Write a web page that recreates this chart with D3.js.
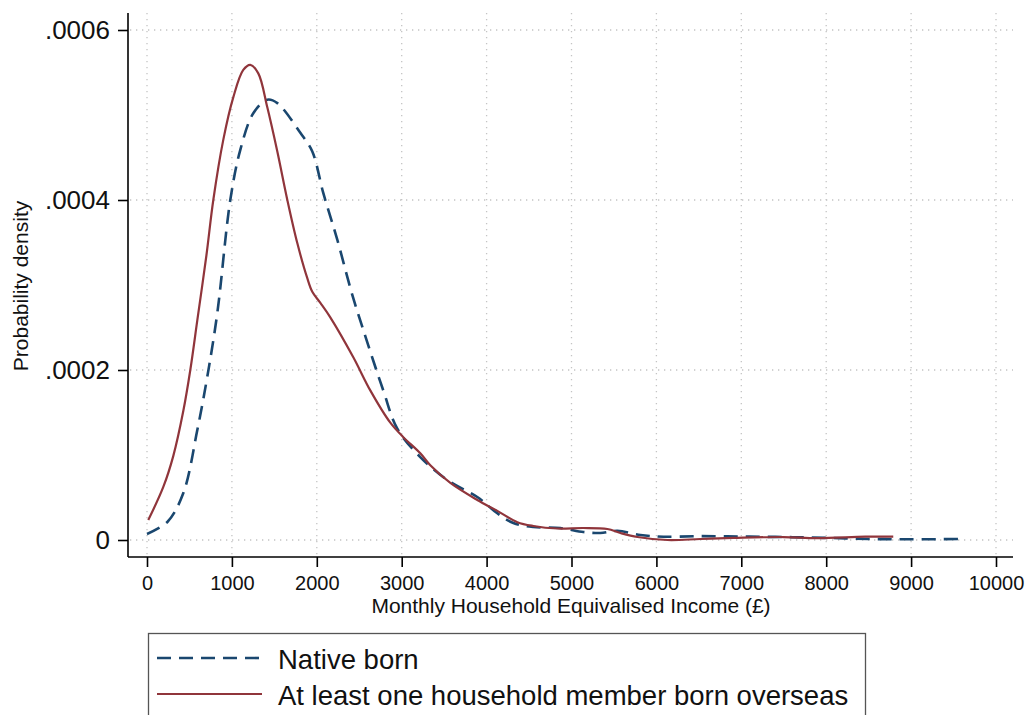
<!DOCTYPE html>
<html>
<head>
<meta charset="utf-8">
<script src="https://cdn.jsdelivr.net/npm/d3@7/dist/d3.min.js"></script>
<style>
  html, body { margin: 0; padding: 0; background: #fff; }
  svg { display: block; font-family: "Liberation Sans", Arial, sans-serif; }
</style>
</head>
<body>
<svg id="chart" width="1027" height="715"></svg>
<script>
// Kernel density estimates of monthly household equivalised income (£)
const xTicks = [0, 1000, 2000, 3000, 4000, 5000, 6000, 7000, 8000, 9000, 10000];
const yTicks = [0, 0.0002, 0.0004, 0.0006];
const yTickLabels = ["0", ".0002", ".0004", ".0006"];

const nativeIncome = [0, 240, 428, 592, 710, 828, 981, 1099, 1252, 1417, 1535, 1806, 1947, 2077, 2242, 2419, 2548, 2783, 2948, 3219, 3537, 3890, 4126, 4315, 4551, 4869, 5140, 5340, 5541, 5812, 6083, 6500, 7000, 7500, 8000, 8500, 9000, 9600];
const nativeDensity = [0.0000071, 0.0000212, 0.0000553, 0.000129, 0.000192, 0.000267, 0.0004, 0.000459, 0.000502, 0.000518, 0.000514, 0.000479, 0.000457, 0.000408, 0.000353, 0.000288, 0.000247, 0.000176, 0.000131, 0.0000976, 0.0000706, 0.0000506, 0.0000314, 0.00002, 0.0000153, 0.0000141, 0.0000094, 0.0000082, 0.0000108, 0.0000059, 0.0000039, 0.0000045, 0.0000040, 0.0000035, 0.0000025, 0.0000012, 0.0000008, 0.0000012];

const overseasIncome = [15, 192, 310, 428, 510, 592, 700, 781, 899, 1017, 1134, 1217, 1311, 1417, 1535, 1653, 1771, 1888, 1947, 2042, 2159, 2430, 2630, 2866, 3019, 3219, 3337, 3573, 3890, 4126, 4362, 4551, 4834, 5140, 5423, 5576, 5777, 6130, 6518, 6907, 7496, 7896, 8461, 8790];
const overseasDensity = [0.0000235, 0.0000624, 0.0000990, 0.000152, 0.0002, 0.000258, 0.000335, 0.0004, 0.000471, 0.000521, 0.000553, 0.000559, 0.000549, 0.000509, 0.000457, 0.0004, 0.000349, 0.000308, 0.000292, 0.000279, 0.000262, 0.000215, 0.000176, 0.000138, 0.000121, 0.000102, 0.0000879, 0.0000671, 0.0000471, 0.0000343, 0.000021, 0.0000165, 0.0000135, 0.0000141, 0.0000129, 0.0000082, 0.0000035, 0.0000000, 0.0000012, 0.0000024, 0.0000035, 0.0000022, 0.0000039, 0.0000039];

const seriesNames = ["Native born", "At least one household member born overseas"];
const seriesColors = ["#1a476f", "#90353b"];

const svg = d3.select("#chart");

// plot region
const plotLeft = 128, plotRight = 1013, plotTop = 13, plotBottom = 557;
const x = d3.scaleLinear().domain([0, 10000]).range([147, 996]);
const y = d3.scaleLinear().domain([0, 0.0006]).range([540, 30]);

// grid lines
const grid = svg.append("g").attr("stroke", "#c4c4c4").attr("stroke-width", 1.3)
  .attr("stroke-dasharray", "1.3 4.7").attr("fill", "none");
grid.selectAll("line.v").data(xTicks).join("line").attr("class", "v")
  .attr("x1", d => x(d)).attr("x2", d => x(d))
  .attr("y1", plotTop).attr("y2", plotBottom);
grid.selectAll("line.h").data(yTicks).join("line").attr("class", "h")
  .attr("x1", plotLeft + 2).attr("x2", plotRight)
  .attr("y1", d => y(d)).attr("y2", d => y(d));

// axes
const xAxis = d3.axisBottom(x).tickValues(xTicks).tickSize(10).tickPadding(9).tickFormat(d3.format("d"));
const gx = svg.append("g").attr("transform", `translate(0,${plotBottom})`).call(xAxis);
gx.select(".domain").remove();
gx.append("line").attr("x1", plotLeft).attr("x2", plotRight).attr("y1", 0).attr("y2", 0)
  .attr("stroke", "#000").attr("stroke-width", 1.6);
gx.selectAll(".tick line").attr("stroke", "#000").attr("stroke-width", 1.6);
gx.selectAll(".tick text").attr("font-size", 20).attr("fill", "#111")
  .attr("font-family", "Liberation Sans, Arial, sans-serif");

const yAxis = d3.axisLeft(y).tickValues(yTicks).tickSize(10).tickPadding(8)
  .tickFormat((d, i) => yTickLabels[i]);
const gy = svg.append("g").attr("transform", `translate(${plotLeft},0)`).call(yAxis);
gy.select(".domain").remove();
gy.append("line").attr("x1", 0).attr("x2", 0).attr("y1", plotTop).attr("y2", plotBottom)
  .attr("stroke", "#000").attr("stroke-width", 1.6);
gy.selectAll(".tick line").attr("stroke", "#000").attr("stroke-width", 1.6);
gy.selectAll(".tick text").attr("font-size", 26).attr("fill", "#111")
  .attr("font-family", "Liberation Sans, Arial, sans-serif");

// axis titles
svg.append("text").attr("x", 571).attr("y", 613).attr("text-anchor", "middle")
  .attr("font-size", 21).attr("fill", "#111").text("Monthly Household Equivalised Income (£)");
svg.append("text").attr("transform", "translate(28,286) rotate(-90)").attr("text-anchor", "middle")
  .attr("font-size", 21).attr("fill", "#111").text("Probability density");

// density curves
const line = d3.line().x(d => x(d[0])).y(d => y(d[1])).curve(d3.curveCatmullRom.alpha(0.5));
const nativePts = nativeIncome.map((v, i) => [v, nativeDensity[i]]);
const overseasPts = overseasIncome.map((v, i) => [v, overseasDensity[i]]);

svg.append("path").datum(nativePts).attr("d", line).attr("fill", "none")
  .attr("stroke", seriesColors[0]).attr("stroke-width", 2.6).attr("stroke-dasharray", "14 8");
svg.append("path").datum(overseasPts).attr("d", line).attr("fill", "none")
  .attr("stroke", seriesColors[1]).attr("stroke-width", 2.2);

// legend
const legend = svg.append("g");
legend.append("rect").attr("x", 148.5).attr("y", 633.5).attr("width", 717).attr("height", 100)
  .attr("fill", "#fff").attr("stroke", "#555").attr("stroke-width", 1.3);
const rows = [{ y: 658, dash: "14 8", w: 2.6 }, { y: 694, dash: null, w: 2.2 }];
rows.forEach((r, i) => {
  legend.append("line").attr("x1", 157).attr("x2", 262).attr("y1", r.y).attr("y2", r.y)
    .attr("stroke", seriesColors[i]).attr("stroke-width", r.w)
    .attr("stroke-dasharray", r.dash);
  legend.append("text").attr("x", 278).attr("y", r.y + 11).attr("font-size", 27.5)
    .attr("fill", "#111").text(seriesNames[i]);
});
</script>
</body>
</html>
